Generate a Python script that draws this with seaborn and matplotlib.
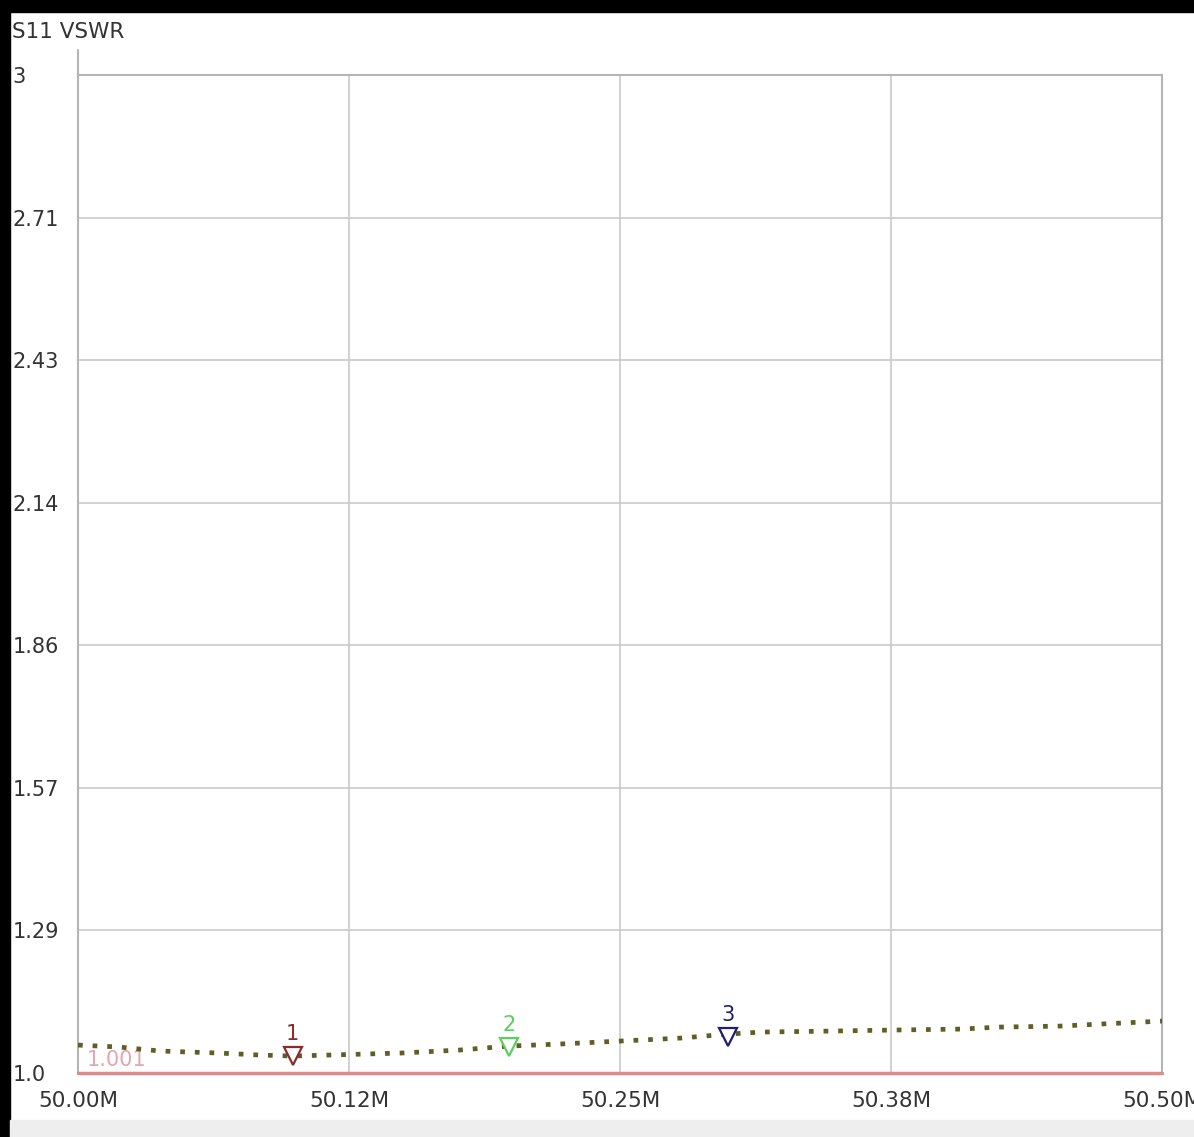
import numpy as np
import pandas as pd
import seaborn as sns
import matplotlib.pyplot as plt
from matplotlib.patches import Rectangle

# trace values (MHz, VSWR)
freq_mhz = [50.000, 50.019, 50.038, 50.065, 50.084, 50.099, 50.116, 50.149,
            50.176, 50.199, 50.222, 50.250, 50.278, 50.300, 50.315, 50.347,
            50.375, 50.407, 50.425, 50.453, 50.471, 50.500]
vswr = [1.056, 1.052, 1.044, 1.040, 1.036, 1.034, 1.036, 1.040,
        1.046, 1.054, 1.058, 1.064, 1.070, 1.078, 1.082, 1.084,
        1.086, 1.088, 1.092, 1.094, 1.098, 1.104]

# markers
marker_ids = ["1", "2", "3"]
marker_freq = [50.099, 50.199, 50.300]
marker_vswr = [1.038, 1.056, 1.076]
marker_colors = ["#8b2b2b", "#5ccf5c", "#1f1f6e"]

ref_level = 1.0
ref_label = "1.001"

x_ticks = [50.0, 50.125, 50.25, 50.375, 50.5]
x_tick_labels = ["50.00M", "50.12M", "50.25M", "50.38M", "50.50M"]
y_ticks = [1.0, 1 + 2 / 7, 1 + 4 / 7, 1 + 6 / 7, 1 + 8 / 7, 1 + 10 / 7, 1 + 12 / 7, 3.0]
y_tick_labels = ["1.0", "1.29", "1.57", "1.86", "2.14", "2.43", "2.71", "3"]

df = pd.DataFrame({"freq": freq_mhz, "vswr": vswr})

sns.set_style("white")
plt.rcParams['font.family'] = ['DejaVu Sans']

fig = plt.figure(figsize=(11.94, 11.37), dpi=100)
ax = fig.add_axes([78 / 1194, 1 - 1073 / 1137, (1162 - 78) / 1194, (1073 - 75) / 1137])

# window decorations: black border at top/left, gray status band at bottom
fig.patches.append(Rectangle((0, 1 - 12 / 1137), 1, 12 / 1137, transform=fig.transFigure,
                             color="black", zorder=0))
fig.patches.append(Rectangle((0, 0), 10 / 1194, 1, transform=fig.transFigure,
                             color="black", zorder=0))
fig.patches.append(Rectangle((10 / 1194, 0), 1, 17 / 1137, transform=fig.transFigure,
                             color="#eeeeee", zorder=0))

ax.axhline(ref_level, color="#d98c8c", lw=2.5, zorder=3, clip_on=False)
ax.text(50.004, 1.027, ref_label, color="#e3a6ae", fontsize=15, va="center", ha="left")

sns.lineplot(data=df, x="freq", y="vswr", ax=ax, color="#5e5e26", lw=3.4,
             linestyle=(0, (1, 2.1)), zorder=4)

for mid, mf, mv, mc in zip(marker_ids, marker_freq, marker_vswr, marker_colors):
    ax.plot(mf, mv - 0.004, marker="v", markersize=13, markerfacecolor="white",
            markeredgecolor=mc, markeredgewidth=1.6, zorder=5)
    ax.text(mf, mv + 0.020, mid, color=mc, fontsize=15, ha="center", va="bottom", zorder=5)

# left axis line pokes a little above the top of the grid
ax.plot([50.0, 50.0], [3.0, 3.05], color="#b5b5b5", lw=1.5, clip_on=False)

ax.set_xlim(50.0, 50.5)
ax.set_ylim(1.0, 3.0)
ax.set_xticks(x_ticks)
ax.set_xticklabels(x_tick_labels)
ax.set_yticks(y_ticks)
ax.set_yticklabels(y_tick_labels, ha="left")
ax.tick_params(axis="y", direction="out", length=7, color="#999999", pad=40,
               labelsize=15, labelcolor="#333333")
ax.tick_params(axis="x", direction="out", length=7, color="#999999", pad=6,
               labelsize=15.5, labelcolor="#333333")
ax.grid(True, color="#c9c9c9", lw=1.2)
ax.set_axisbelow(True)
for side in ["left", "right", "top"]:
    ax.spines[side].set_color("#b5b5b5")
    ax.spines[side].set_linewidth(1.5)
ax.spines["bottom"].set_visible(False)
ax.set_xlabel("")
ax.set_ylabel("")

fig.text(12 / 1194, 1 - 32 / 1137, "S11 VSWR", fontsize=15.5, color="#333333",
         ha="left", va="center")

fig.savefig("out.png", dpi=100)
